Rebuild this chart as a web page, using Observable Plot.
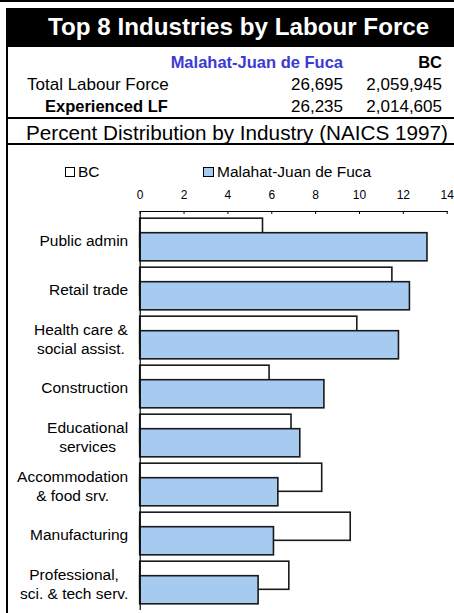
<!DOCTYPE html>
<html>
<head>
<meta charset="utf-8">
<script src="https://cdn.jsdelivr.net/npm/d3@7"></script>
<script src="https://cdn.jsdelivr.net/npm/@observablehq/plot@0.6"></script>
<style>
  html, body { margin: 0; padding: 0; background: #fff; }
  #page { position: relative; width: 454px; height: 613px; overflow: hidden; font-family: "Liberation Sans", Arial, sans-serif; color: #000; }
  .abs { position: absolute; white-space: nowrap; line-height: 1; }
  .line { position: absolute; background: #000; }
</style>
</head>
<body>
<div id="page"></div>
<script>
// ---- data ----
const title = "Top 8 Industries by Labour Force";
const subtitle = "Percent Distribution by Industry (NAICS 1997)";
const regions = ["Malahat-Juan de Fuca", "BC"];
const rowLabels = ["Total Labour Force", "Experienced LF"];
const totalLF = ["26,695", "2,059,945"];
const experiencedLF = ["26,235", "2,014,605"];

const industries = [
  "Public admin",
  "Retail trade",
  "Health care &\nsocial assist.",
  "Construction",
  "Educational\nservices",
  "Accommodation\n& food srv.",
  "Manufacturing",
  "Professional,\nsci. & tech serv."
];
const bcPct   = [5.6, 11.5, 9.9, 5.9, 6.9, 8.3, 9.6, 6.8];
const mjdfPct = [13.1, 12.3, 11.8, 8.4, 7.3, 6.3, 6.1, 5.4];
const xTicks = [0, 2, 4, 6, 8, 10, 12, 14];

const blue = "#a6caf0";

// ---- header (HTML) ----
const page = document.getElementById("page");
function el(cls, style, text) {
  const d = document.createElement("div");
  d.className = cls;
  d.setAttribute("style", style);
  if (text != null) d.textContent = text;
  page.appendChild(d);
  return d;
}
el("line", "left:0;top:0;width:454px;height:2px;");
el("line", "left:6px;top:8px;width:448px;height:39px;");
el("abs", "left:48px;top:14.5px;font-size:24.2px;font-weight:bold;color:#fff;", title);
el("abs", "right:111px;top:53.5px;font-size:16.5px;font-weight:bold;color:#3b3bd3;", regions[0]);
el("abs", "right:12px;top:53.5px;font-size:16.5px;font-weight:bold;", regions[1]);
el("abs", "left:27px;top:76.3px;font-size:17px;", rowLabels[0]);
el("abs", "right:111px;top:76.3px;font-size:17px;", totalLF[0]);
el("abs", "right:12px;top:76.3px;font-size:17px;", totalLF[1]);
el("abs", "left:45px;top:98.3px;font-size:16.5px;font-weight:bold;", rowLabels[1]);
el("abs", "right:111px;top:98px;font-size:17px;", experiencedLF[0]);
el("abs", "right:12px;top:98px;font-size:17px;", experiencedLF[1]);
el("line", "left:6px;top:117px;width:448px;height:1.5px;");
el("abs", "left:26px;top:123px;font-size:20.7px;", subtitle);
el("line", "left:6px;top:143px;width:448px;height:1.5px;");
el("line", "left:6px;top:47px;width:1.5px;height:566px;");

// legend
el("abs", "left:65px;top:167px;width:10px;height:10px;box-sizing:border-box;border:1.5px solid #000;background:#fff;");
el("abs", "left:78px;top:163.6px;font-size:15.5px;", regions[1]);
el("abs", "left:203px;top:167px;width:11px;height:10px;box-sizing:border-box;border:1.5px solid #000;background:" + blue + ";");
el("abs", "left:217px;top:163.6px;font-size:15.5px;", regions[0]);

// ---- chart ----
const rows = industries.map((d, i) => ({industry: d, bc: bcPct[i], mjdf: mjdfPct[i]}));

const W = 447, H = 430;
const mTop = 28, mBottom = 3, mLeft = 132.7, mRight = 7.3;
const band = (H - mTop - mBottom) / industries.length;
const barH = 29, off = 14.5, pad = (band - barH - off) / 2;

const chart = Plot.plot({
  width: W,
  height: H,
  marginTop: mTop,
  marginBottom: mBottom,
  marginLeft: mLeft,
  marginRight: mRight,
  style: {fontFamily: "Liberation Sans, Arial, sans-serif", fontSize: "15.5px", color: "#000", background: "transparent", overflow: "visible"},
  x: {domain: [0, 14]},
  y: {domain: industries, padding: 0},
  marks: [
    Plot.barX(rows, {y: "industry", x: "bc", fill: "white", stroke: "#1a1a1a", strokeWidth: 1.6,
      insetTop: pad, insetBottom: band - pad - barH}),
    Plot.barX(rows, {y: "industry", x: "mjdf", fill: blue, stroke: "#1a1a1a", strokeWidth: 1.6,
      insetTop: pad + off, insetBottom: pad}),
    Plot.frame({anchor: "top", stroke: "#000", strokeWidth: 1.2}),
    Plot.ruleX([0], {stroke: "#000", strokeWidth: 1.2}),
    Plot.tickX(xTicks, {x: d => d, stroke: "#000", strokeWidth: 1, insetBottom: H - mTop - mBottom - 3}),
    Plot.axisX({anchor: "top", ticks: xTicks, tickSize: 0, tickPadding: 13, fontSize: 12, tickFormat: d => String(d), label: null}),
    Plot.axisY({tickSize: 0, tickPadding: 12, label: null, lineHeight: 1.22, fontSize: 15.5})
  ]
});
chart.style.position = "absolute";
chart.style.left = "7px";
chart.style.top = "183px";
page.appendChild(chart);

// center multi-line category labels as a block (right edge stays at the axis padding)
d3.select(chart).selectAll("g[aria-label='y-axis tick label'] text").each(function() {
  const w = this.getBBox().width;
  this.setAttribute("text-anchor", "middle");
  const t = this.getAttribute("transform") || "";
  this.setAttribute("transform", t + ` translate(${-w / 2},0)`);
});
</script>
</body>
</html>
